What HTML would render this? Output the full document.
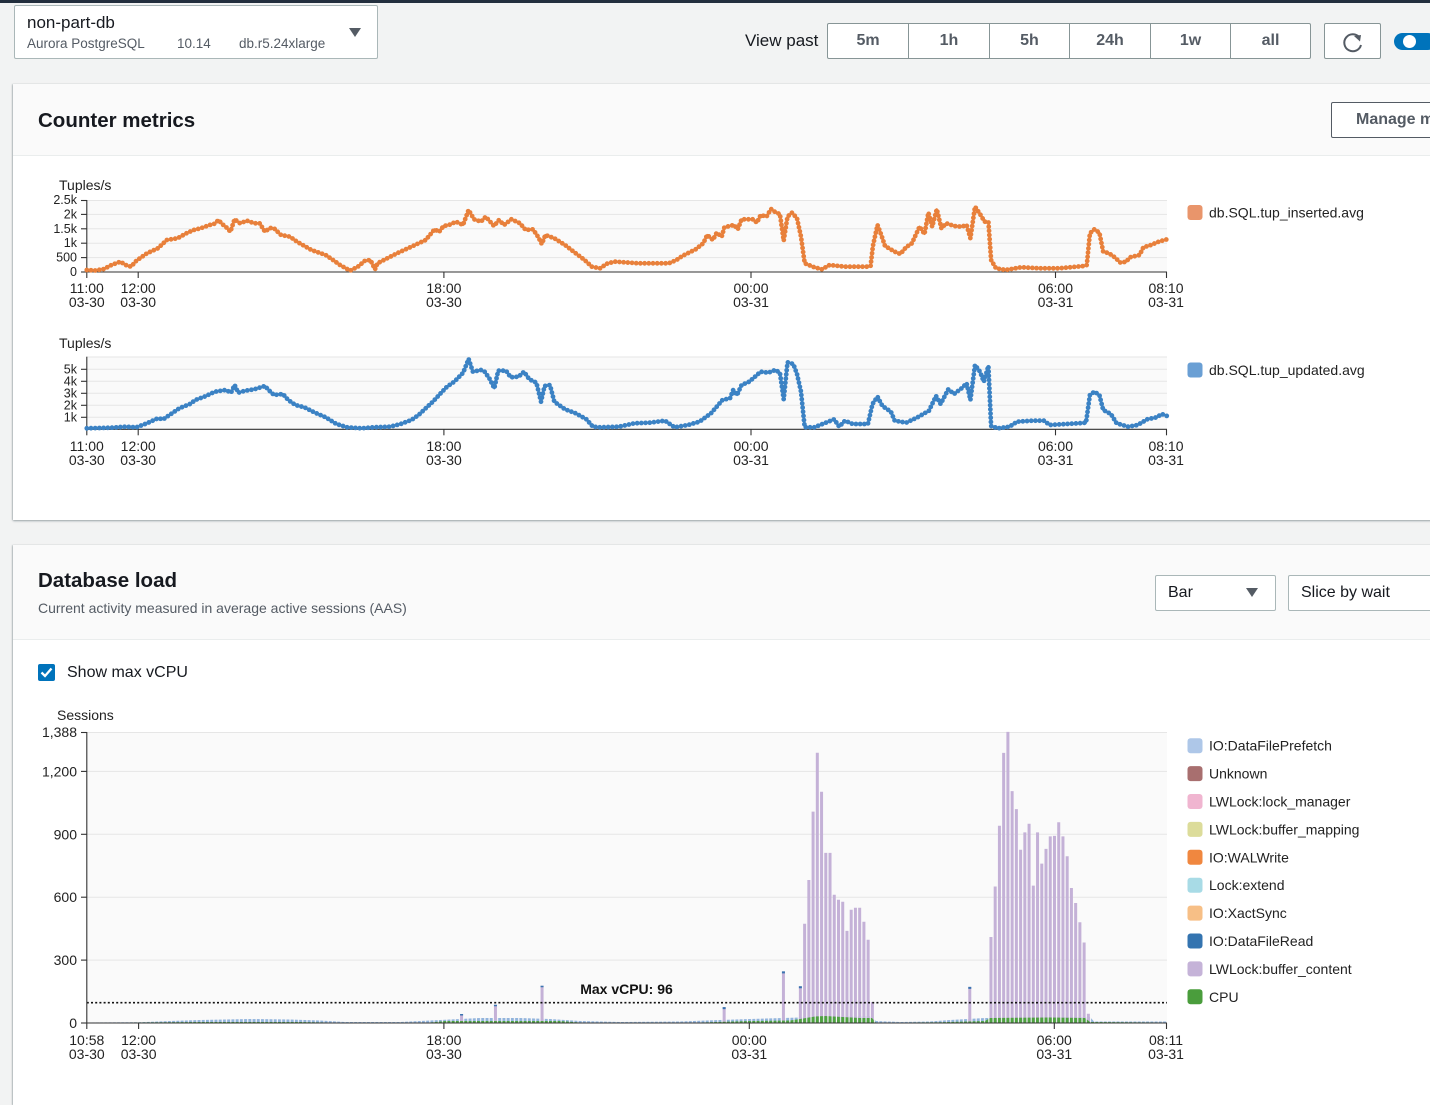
<!DOCTYPE html>
<html><head><meta charset="utf-8">
<style>
*{margin:0;padding:0;box-sizing:border-box}
body{width:1430px;height:1074px;overflow:hidden;background:#f2f3f3;font-family:"Liberation Sans",Arial,sans-serif;position:relative;color:#16191f}
.a{position:absolute;white-space:nowrap}
.btn{position:absolute;top:0;height:34px;line-height:34px;text-align:center;font-weight:bold;font-size:16px;color:#545b64;border-left:1px solid #879596}
</style></head><body>
<div class="a" style="left:0;top:0;width:1430px;height:3px;background:#232f3e"></div>

<!-- instance selector -->
<div class="a" style="left:14px;top:5px;width:364px;height:54px;background:#fff;border:1px solid #aab7b8;border-radius:2px"></div>
<div class="a" style="left:27px;top:13px;font-size:17px;line-height:20px;color:#16191f">non-part-db</div>
<div class="a" style="left:27px;top:36px;font-size:13.5px;line-height:16px;color:#545b64">Aurora PostgreSQL</div>
<div class="a" style="left:177px;top:36px;font-size:13.5px;line-height:16px;color:#545b64">10.14</div>
<div class="a" style="left:239px;top:36px;font-size:13.5px;line-height:16px;color:#545b64">db.r5.24xlarge</div>
<div class="a" style="left:349px;top:28px;width:0;height:0;border-left:6px solid transparent;border-right:6px solid transparent;border-top:9px solid #545b64"></div>

<!-- view past -->
<div class="a" style="left:745px;top:31px;font-size:17px;line-height:20px;color:#16191f">View past</div>
<div class="a" style="left:827px;top:23px;width:484px;height:36px;background:#fff;border:1px solid #879596;border-radius:2px">
  <div class="btn" style="left:0;width:80px;border-left:none">5m</div>
  <div class="btn" style="left:80px;width:81px">1h</div>
  <div class="btn" style="left:161px;width:80px">5h</div>
  <div class="btn" style="left:241px;width:81px">24h</div>
  <div class="btn" style="left:322px;width:80px">1w</div>
  <div class="btn" style="left:402px;width:80px">all</div>
</div>
<div class="a" style="left:1324px;top:23px;width:57px;height:36px;background:#fff;border:1px solid #879596;border-radius:2px">
  <svg width="57" height="36" style="position:absolute;left:-1px;top:-1px">
    <path d="M35.5 14.5 A8.5 8.5 0 1 0 37 22" fill="none" stroke="#545b64" stroke-width="2"/>
    <path d="M30 13 L37 12 L36 18.5 Z" fill="#545b64"/>
  </svg>
</div>
<div class="a" style="left:1394px;top:33px;width:42px;height:17px;border-radius:9px;background:#0073bb"></div>
<div class="a" style="left:1403px;top:35px;width:13px;height:13px;border-radius:50%;background:#fff"></div>

<!-- Counter metrics panel -->
<div class="a" style="left:13px;top:84px;width:1440px;height:436px;background:#fff;box-shadow:0 1px 2px rgba(0,28,36,.35),-1px 0 1px rgba(0,28,36,.15)"></div>
<div class="a" style="left:13px;top:84px;width:1440px;height:72px;background:#fafafa;border-bottom:1px solid #eaeded"></div>
<div class="a" style="left:38px;top:108px;font-size:20.5px;line-height:26px;font-weight:bold;color:#16191f">Counter metrics</div>
<div class="a" style="left:1331px;top:102px;width:130px;height:36px;background:#fff;border:1px solid #545b64;border-radius:2px;font-weight:bold;font-size:16px;line-height:34px;color:#545b64;padding-left:24px">Manage metrics</div>

<!-- Database load panel -->
<div class="a" style="left:13px;top:545px;width:1440px;height:560px;background:#fff;box-shadow:0 1px 2px rgba(0,28,36,.35),-1px 0 1px rgba(0,28,36,.15)"></div>
<div class="a" style="left:13px;top:545px;width:1440px;height:95px;background:#fafafa;border-bottom:1px solid #eaeded"></div>
<div class="a" style="left:38px;top:568px;font-size:20.5px;line-height:26px;font-weight:bold;color:#16191f">Database load</div>
<div class="a" style="left:38px;top:599px;font-size:14px;line-height:18px;color:#545b64">Current activity measured in average active sessions (AAS)</div>
<div class="a" style="left:1155px;top:575px;width:121px;height:36px;background:#fff;border:1px solid #aab7b8;border-radius:2px"></div>
<div class="a" style="left:1168px;top:583px;font-size:16px;line-height:20px;color:#16191f">Bar</div>
<div class="a" style="left:1246px;top:588px;width:0;height:0;border-left:6.5px solid transparent;border-right:6.5px solid transparent;border-top:9px solid #545b64"></div>
<div class="a" style="left:1288px;top:575px;width:170px;height:36px;background:#fff;border:1px solid #aab7b8;border-radius:2px"></div>
<div class="a" style="left:1301px;top:583px;font-size:16px;line-height:20px;color:#16191f">Slice by wait</div>

<div class="a" style="left:38px;top:664px;width:17px;height:17px;background:#0073bb;border-radius:2px">
  <svg width="17" height="17" style="position:absolute;left:0;top:0"><path d="M3.5 8.5 L7 12 L13.5 4.5" fill="none" stroke="#fff" stroke-width="2.3"/></svg>
</div>
<div class="a" style="left:67px;top:663px;font-size:16px;line-height:20px;color:#16191f">Show max vCPU</div>

<!-- Charts -->
<svg class="a" style="left:0;top:0" width="1430" height="1074" font-family="Liberation Sans, Arial, sans-serif">
<defs>
  <pattern id="pb" patternUnits="userSpaceOnUse" x="87.4" y="0" width="4.235" height="1100"><rect width="3" height="1100" fill="#92b4dc"/></pattern>
  <pattern id="pg" patternUnits="userSpaceOnUse" x="87.4" y="0" width="4.235" height="1100"><rect width="3" height="1100" fill="#4ea23f"/></pattern>
  <polyline id="l1" points="86.8,270 95,270.5 104,269 111.4,265 120.4,261.7 125.7,265 131,266.7 136.4,260.7 147,253.3 157.9,248.3 166.8,240 177.5,238.3 186.4,233.3 193.6,230 200.7,228.3 209.6,225 214,224 218.6,220 222,224 225.7,226.7 230.4,231.7 234.6,219.3 240,223.3 247,220.7 254.3,223.3 259.6,223.3 265,231.7 270,228 274,228.3 281,235 290,236.7 297,241.7 311.4,250 325.7,255 333,260 340,265 350,270.7 357.9,266.7 365,260.7 370.4,260 375,269.3 377.5,263.3 397,253.3 411.4,246.7 425.7,240 434.6,229.3 439,232 443.6,226 449,225 456,221.7 463,225 468.6,210 474,219.3 481,221.7 485.7,216.7 494,226 499,220 504,225 511.4,219.3 520,223.3 525.7,230 533,229.3 538,236.7 541.8,244 545.4,235 554.3,238.3 565,245 575.7,253.3 584.6,260 591.8,266.7 600,268.3 607.7,263.3 615.3,261.7 638.3,263.3 668.9,263.3 676.5,260 682.3,256 695.7,249.3 703.3,243.3 707.2,235 712.9,240 716.7,232.7 721.7,236.7 724.4,227.3 734,225 737.8,229.3 741.6,219.3 753,219.3 756.9,222.7 760.7,215 766.5,216.7 771,209 776,212.7 779.9,214 783.7,240.7 787.5,216.7 792,212.7 797,218.3 801,236.7 804.7,263.3 814.3,267.3 822,269.3 829.6,265 845,266.7 867.9,266.7 870.6,266 872.9,246 877.5,225 881.3,235 885,246 894.7,251.7 900.4,254 906,247.3 911.9,243.3 915.7,235 919.6,226.7 924.5,234 928.4,212.7 932.2,226.7 936.8,209.3 941.4,228.3 946.3,223.3 954,226 961.6,226.7 966.6,225 970.4,238.3 975,206.7 980,214 984.6,221.7 988.4,221.7 991.1,260 996,268.3 1005.7,270 1021,267.3 1040,268.3 1059.2,268.3 1084,266 1086.8,265 1089.9,233.3 1094.4,229.3 1099.4,232.7 1103.2,251.7 1109,253.3 1114.7,257.3 1120.5,262.7 1126.2,261.7 1130,257.3 1139.6,255 1143.4,247.3 1151,245 1158.7,241.7 1167,239.3"/>
  <polyline id="l2" points="86.8,428.3 111.4,427.7 125.7,426.7 136.4,427.3 147,423.3 157.9,418.3 163.2,419.3 172,413.3 179.3,408.3 190,404 195.4,400 204.3,396.7 215,391.7 225.7,390 231,392.7 234.6,385 238.2,392.7 245.4,390.7 254.3,389.3 265,386 268.6,390 274,395 282.9,394 288.2,400 295.4,405 304.3,407.3 315,412.7 325.7,417.3 336.4,424 347,427.3 361.4,428.3 374,427.3 390,426.7 400.7,424 411.4,420 418.6,415 425.7,408.3 432.9,401.7 440,394 447,386.7 454.3,381.7 463.2,372.7 468.6,359 472.9,371.7 481,370 484.6,371.7 489.3,378.3 494.3,388.3 498.2,370.7 506,370.7 510.7,377.3 518.6,376.7 524,371.7 529.3,379.3 536.4,382.7 541,401.7 544.6,386 550,385 554.3,401.7 565,409.3 575.7,413.3 586.4,419.3 592.9,426.7 600,427.3 619,426.7 634.4,423.3 649.8,422.7 665,420.7 674.6,427.3 688,425 699.5,421.7 711,413.3 722.5,400 730,398.3 733.2,390 737,395 741.6,385 749.3,381.7 755,376.7 760.7,371.7 768.4,372.7 775.3,370 779.9,372.7 783.7,399.3 787.5,362.3 793.3,364 797,374 801,391.7 804.7,427.3 814.3,427.3 825.8,422.7 834.2,419.3 839.2,426.7 845,420.7 852.6,424 867.9,424 872.5,404 877.5,396.7 882.4,406 890.9,411.7 894.7,420.7 906.2,422.7 917.6,417.3 929,410.7 936,396 940.6,404 948.3,389.3 954,394 961.6,388.3 966.6,383.3 970.4,400 975,365 980,371.7 983.8,381.7 988.4,366 991.1,426 998,428.3 1009.5,426.7 1017.1,421.7 1032.5,420.7 1044,420.7 1049.7,425 1078.4,423.3 1086,422.7 1089.9,395 1094.4,391.7 1099.4,395 1103.2,410 1110.9,414 1116.6,423.3 1128.1,426.7 1137.7,425 1147.3,419.3 1156.8,417.3 1161.8,414 1167,416"/>
</defs>

<!-- ===== Chart 1 ===== -->
<text x="59" y="185" font-size="14" fill="#222" dominant-baseline="central">Tuples/s</text>
<rect x="86.8" y="200" width="1080.2" height="72" fill="#fafafa"/>
<g stroke="#e6e6e6" stroke-width="1">
  <line x1="86.8" x2="1167" y1="200.5" y2="200.5"/>
  <line x1="86.8" x2="1167" y1="214.4" y2="214.4"/>
  <line x1="86.8" x2="1167" y1="228.8" y2="228.8"/>
  <line x1="86.8" x2="1167" y1="243.2" y2="243.2"/>
  <line x1="86.8" x2="1167" y1="257.6" y2="257.6"/>
</g>
<g stroke="#333" stroke-width="1.1">
  <line x1="86.8" x2="86.8" y1="200" y2="272"/>
  <line x1="86.8" x2="1167" y1="272" y2="272"/>
  <line x1="81" x2="86.8" y1="200.5" y2="200.5"/>
  <line x1="81" x2="86.8" y1="214.4" y2="214.4"/>
  <line x1="81" x2="86.8" y1="228.8" y2="228.8"/>
  <line x1="81" x2="86.8" y1="243.2" y2="243.2"/>
  <line x1="81" x2="86.8" y1="257.6" y2="257.6"/>
  <line x1="81" x2="86.8" y1="272" y2="272"/>
  <line x1="86.8" x2="86.8" y1="272" y2="278"/>
  <line x1="138.2" x2="138.2" y1="272" y2="278"/>
  <line x1="443.9" x2="443.9" y1="272" y2="278"/>
  <line x1="751" x2="751" y1="272" y2="278"/>
  <line x1="1055.5" x2="1055.5" y1="272" y2="278"/>
  <line x1="1166.5" x2="1166.5" y1="272" y2="278"/>
</g>
<g font-size="12.5" fill="#222" text-anchor="end" dominant-baseline="central">
  <text x="77" y="200">2.5k</text><text x="77" y="214.4">2k</text><text x="77" y="228.8">1.5k</text>
  <text x="77" y="243.2">1k</text><text x="77" y="257.6">500</text><text x="77" y="272">0</text>
</g>
<g font-size="14" fill="#222" text-anchor="middle" dominant-baseline="central">
  <text x="86.8" y="288">11:00</text><text x="86.8" y="302">03-30</text>
  <text x="138.2" y="288">12:00</text><text x="138.2" y="302">03-30</text>
  <text x="443.9" y="288">18:00</text><text x="443.9" y="302">03-30</text>
  <text x="751" y="288">00:00</text><text x="751" y="302">03-31</text>
  <text x="1055.5" y="288">06:00</text><text x="1055.5" y="302">03-31</text>
  <text x="1166" y="288">08:10</text><text x="1166" y="302">03-31</text>
</g>
<g fill="none" stroke="#e8803b" stroke-linejoin="round">
  <use href="#l1" stroke-width="2.2"/>
  <use href="#l1" stroke-width="4.8" stroke-linecap="round" stroke-dasharray="0 4.2"/>
</g>
<rect x="1187.5" y="205" width="15" height="15" rx="3" fill="#e9956b"/>
<text x="1209" y="212.5" font-size="14" fill="#222" dominant-baseline="central">db.SQL.tup_inserted.avg</text>

<!-- ===== Chart 2 ===== -->
<text x="59" y="343" font-size="14" fill="#222" dominant-baseline="central">Tuples/s</text>
<rect x="86.8" y="356.7" width="1080.2" height="72.6" fill="#fafafa"/>
<g stroke="#e6e6e6" stroke-width="1">
  <line x1="86.8" x2="1167" y1="357" y2="357"/>
  <line x1="86.8" x2="1167" y1="369.3" y2="369.3"/>
  <line x1="86.8" x2="1167" y1="381.3" y2="381.3"/>
  <line x1="86.8" x2="1167" y1="393.3" y2="393.3"/>
  <line x1="86.8" x2="1167" y1="405.3" y2="405.3"/>
  <line x1="86.8" x2="1167" y1="417.3" y2="417.3"/>
</g>
<g stroke="#333" stroke-width="1.1">
  <line x1="86.8" x2="86.8" y1="356.7" y2="429.3"/>
  <line x1="86.8" x2="1167" y1="429.3" y2="429.3"/>
  <line x1="81" x2="86.8" y1="369.3" y2="369.3"/>
  <line x1="81" x2="86.8" y1="381.3" y2="381.3"/>
  <line x1="81" x2="86.8" y1="393.3" y2="393.3"/>
  <line x1="81" x2="86.8" y1="405.3" y2="405.3"/>
  <line x1="81" x2="86.8" y1="417.3" y2="417.3"/>
  <line x1="86.8" x2="86.8" y1="429.3" y2="435.3"/>
  <line x1="138.2" x2="138.2" y1="429.3" y2="435.3"/>
  <line x1="443.9" x2="443.9" y1="429.3" y2="435.3"/>
  <line x1="751" x2="751" y1="429.3" y2="435.3"/>
  <line x1="1055.5" x2="1055.5" y1="429.3" y2="435.3"/>
  <line x1="1166.5" x2="1166.5" y1="429.3" y2="435.3"/>
</g>
<g font-size="12.5" fill="#222" text-anchor="end" dominant-baseline="central">
  <text x="77" y="369.3">5k</text><text x="77" y="381.3">4k</text><text x="77" y="393.3">3k</text>
  <text x="77" y="405.3">2k</text><text x="77" y="417.3">1k</text>
</g>
<g font-size="14" fill="#222" text-anchor="middle" dominant-baseline="central">
  <text x="86.8" y="446">11:00</text><text x="86.8" y="460">03-30</text>
  <text x="138.2" y="446">12:00</text><text x="138.2" y="460">03-30</text>
  <text x="443.9" y="446">18:00</text><text x="443.9" y="460">03-30</text>
  <text x="751" y="446">00:00</text><text x="751" y="460">03-31</text>
  <text x="1055.5" y="446">06:00</text><text x="1055.5" y="460">03-31</text>
  <text x="1166" y="446">08:10</text><text x="1166" y="460">03-31</text>
</g>
<g fill="none" stroke="#3b82c4" stroke-linejoin="round">
  <use href="#l2" stroke-width="2.2"/>
  <use href="#l2" stroke-width="4.8" stroke-linecap="round" stroke-dasharray="0 4.2"/>
</g>
<rect x="1187.5" y="362.5" width="15" height="15" rx="3" fill="#6a9fd4"/>
<text x="1209" y="370" font-size="14" fill="#222" dominant-baseline="central">db.SQL.tup_updated.avg</text>

<!-- ===== Database load chart ===== -->
<text x="57" y="715" font-size="14" fill="#222" dominant-baseline="central">Sessions</text>
<rect x="86.8" y="732" width="1080.2" height="291" fill="#fafafa"/>
<g stroke="#e6e6e6" stroke-width="1">
  <line x1="86.8" x2="1167" y1="732.5" y2="732.5"/>
  <line x1="86.8" x2="1167" y1="771.4" y2="771.4"/>
  <line x1="86.8" x2="1167" y1="834.3" y2="834.3"/>
  <line x1="86.8" x2="1167" y1="897.2" y2="897.2"/>
  <line x1="86.8" x2="1167" y1="960.1" y2="960.1"/>
</g>
<polygon fill="url(#pb)" points="86.8,1023 87,1022.5 140,1022.2 170,1021 200,1020 250,1019 290,1019.5 320,1020.5 345,1022 400,1022 430,1020.5 460,1019 480,1018 520,1018 550,1019 580,1021 620,1022 680,1021.5 720,1020 750,1019 800,1017.5 870,1016 876,1021 900,1022 930,1021.5 950,1020 985,1018 1090,1017 1094,1021.5 1167,1021.5 1167,1023"/>
<path fill="#c4b1d7" d="M722.65 1007.1h3V1023h-3z M781.94 971.4h3V1023h-3z M798.88 986.3h3V1023h-3z M803.12 923.8h3V1023h-3z M807.35 880h3V1023h-3z M811.59 811.6h3V1023h-3z M815.82 752.7h3V1023h-3z M820.06 791.7h3V1023h-3z M824.29 852.9h3V1023h-3z M828.53 852.9h3V1023h-3z M832.76 894.7h3V1023h-3z M837 899.7h3V1023h-3z M841.23 901.8h3V1023h-3z M845.47 930.9h3V1023h-3z M849.7 909.8h3V1023h-3z M853.94 907.7h3V1023h-3z M858.17 907.7h3V1023h-3z M862.41 921.7h3V1023h-3z M866.64 939.7h3V1023h-3z M870.88 1002h3V1023h-3z M968.28 986.9h3V1023h-3z M989.46 937h3V1023h-3z M993.69 886.5h3V1023h-3z M997.93 825.7h3V1023h-3z M1002.16 752.9h3V1023h-3z M1006.4 731.9h3V1023h-3z M1010.63 791.1h3V1023h-3z M1014.87 809.1h3V1023h-3z M1019.1 849.8h3V1023h-3z M1023.34 832.4h3V1023h-3z M1027.57 823.8h3V1023h-3z M1031.81 885.6h3V1023h-3z M1036.04 832.4h3V1023h-3z M1040.28 863.6h3V1023h-3z M1044.51 848.9h3V1023h-3z M1048.75 836.4h3V1023h-3z M1052.98 835.9h3V1023h-3z M1057.22 822.3h3V1023h-3z M1061.45 836.4h3V1023h-3z M1065.69 856.3h3V1023h-3z M1069.92 888h3V1023h-3z M1074.16 903h3V1023h-3z M1078.39 922.3h3V1023h-3z M1082.63 942.5h3V1023h-3z M1086.86 1013.8h3V1023h-3z M493.96 1004.8h3V1023h-3z M540.55 985.7h3V1023h-3z M460.08 1014h3V1023h-3z"/>
<path fill="#3a74b0" d="M722.65 1007.1h3v2h-3z M781.94 971.4h3v2h-3z M798.88 986.3h3v2h-3z M968.28 986.9h3v2h-3z M493.96 1004.8h3v1.5h-3z M540.55 985.7h3v1.5h-3z M460.08 1014h3v1.5h-3z"/>
<polygon fill="url(#pg)" points="86.8,1023 87,1022.8 200,1022 300,1022 345,1022.7 430,1022.5 445,1021 560,1021 580,1022.5 700,1022.5 750,1021 790,1020.5 800,1019 815,1016.5 825,1016 860,1018 872,1018 876,1022.7 940,1022.3 985,1021 990,1018 1050,1017.5 1085,1018 1090,1022 1167,1022.5 1167,1023"/>
<line x1="86.8" x2="1167" y1="1002.7" y2="1002.7" stroke="#111" stroke-width="1.6" stroke-dasharray="2 2.2"/>
<text x="626.5" y="989" font-size="14" font-weight="bold" fill="#111" text-anchor="middle" dominant-baseline="central">Max vCPU: 96</text>
<g stroke="#333" stroke-width="1.1">
  <line x1="86.8" x2="86.8" y1="732" y2="1023"/>
  <line x1="86.8" x2="1167" y1="1023" y2="1023"/>
  <line x1="81" x2="86.8" y1="732.5" y2="732.5"/>
  <line x1="81" x2="86.8" y1="771.4" y2="771.4"/>
  <line x1="81" x2="86.8" y1="834.3" y2="834.3"/>
  <line x1="81" x2="86.8" y1="897.2" y2="897.2"/>
  <line x1="81" x2="86.8" y1="960.1" y2="960.1"/>
  <line x1="81" x2="86.8" y1="1023" y2="1023"/>
  <line x1="86.8" x2="86.8" y1="1023" y2="1029"/>
  <line x1="138.6" x2="138.6" y1="1023" y2="1029"/>
  <line x1="443.9" x2="443.9" y1="1023" y2="1029"/>
  <line x1="749.3" x2="749.3" y1="1023" y2="1029"/>
  <line x1="1054.3" x2="1054.3" y1="1023" y2="1029"/>
  <line x1="1166.5" x2="1166.5" y1="1023" y2="1029"/>
</g>
<g font-size="14" fill="#222" text-anchor="end" dominant-baseline="central">
  <text x="77" y="732">1,388</text><text x="77" y="771.4">1,200</text><text x="77" y="834.3">900</text>
  <text x="77" y="897.2">600</text><text x="77" y="960.1">300</text><text x="77" y="1023">0</text>
</g>
<g font-size="14" fill="#222" text-anchor="middle" dominant-baseline="central">
  <text x="86.8" y="1040">10:58</text><text x="86.8" y="1054">03-30</text>
  <text x="138.6" y="1040">12:00</text><text x="138.6" y="1054">03-30</text>
  <text x="443.9" y="1040">18:00</text><text x="443.9" y="1054">03-30</text>
  <text x="749.3" y="1040">00:00</text><text x="749.3" y="1054">03-31</text>
  <text x="1054.3" y="1040">06:00</text><text x="1054.3" y="1054">03-31</text>
  <text x="1166" y="1040">08:11</text><text x="1166" y="1054">03-31</text>
</g>
<g>
  <rect x="1187.5" y="738.2" width="15" height="15" rx="3" fill="#aec7e8"/>
  <rect x="1187.5" y="766.1" width="15" height="15" rx="3" fill="#a86f6f"/>
  <rect x="1187.5" y="794" width="15" height="15" rx="3" fill="#f0b5d0"/>
  <rect x="1187.5" y="821.9" width="15" height="15" rx="3" fill="#dcdc9a"/>
  <rect x="1187.5" y="849.8" width="15" height="15" rx="3" fill="#f0873f"/>
  <rect x="1187.5" y="877.7" width="15" height="15" rx="3" fill="#a8dbe6"/>
  <rect x="1187.5" y="905.6" width="15" height="15" rx="3" fill="#f7bf86"/>
  <rect x="1187.5" y="933.5" width="15" height="15" rx="3" fill="#3474b0"/>
  <rect x="1187.5" y="961.4" width="15" height="15" rx="3" fill="#c5b3d8"/>
  <rect x="1187.5" y="989.3" width="15" height="15" rx="3" fill="#4a9d3c"/>
</g>
<g font-size="14" fill="#222" dominant-baseline="central">
  <text x="1209" y="745.7">IO:DataFilePrefetch</text>
  <text x="1209" y="773.6">Unknown</text>
  <text x="1209" y="801.5">LWLock:lock_manager</text>
  <text x="1209" y="829.4">LWLock:buffer_mapping</text>
  <text x="1209" y="857.3">IO:WALWrite</text>
  <text x="1209" y="885.2">Lock:extend</text>
  <text x="1209" y="913.1">IO:XactSync</text>
  <text x="1209" y="941">IO:DataFileRead</text>
  <text x="1209" y="968.9">LWLock:buffer_content</text>
  <text x="1209" y="996.8">CPU</text>
</g>
</svg>
</body></html>
